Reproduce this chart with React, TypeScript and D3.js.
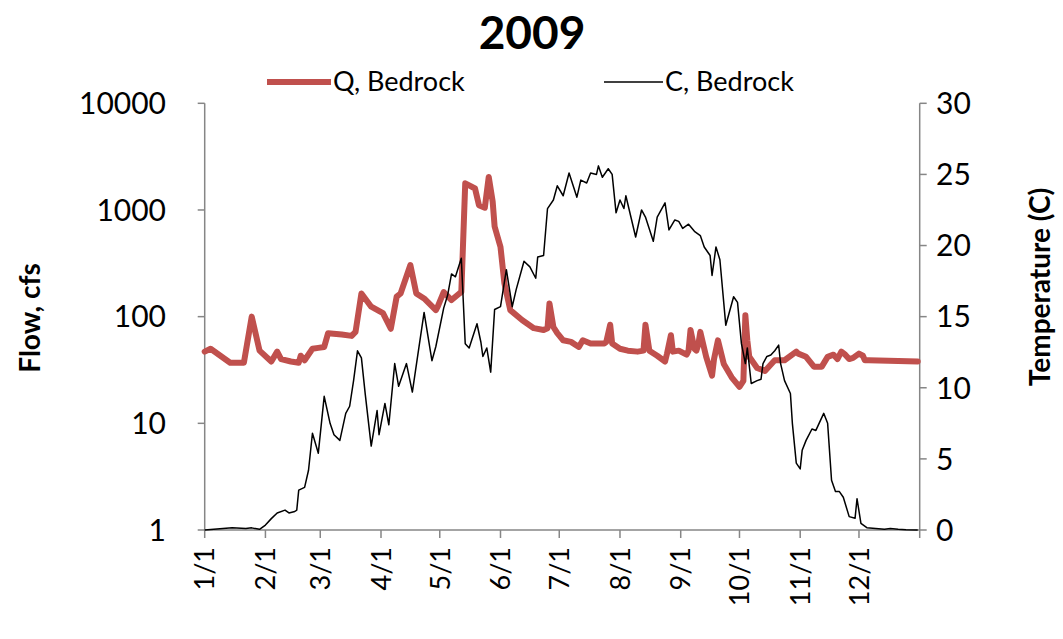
import React from "react";
import * as d3 from "d3";

// day of year (0 = Jan 1, 2009) and flow, cfs
const flowDays = [0, 3, 8, 13, 20, 24, 28, 34, 37, 39, 44, 48, 49, 51, 55, 58, 61, 63, 70, 75, 77, 80, 85, 91, 95, 98, 100, 105, 108, 112, 118, 119, 122, 126, 130, 131, 133, 135, 138, 140, 143, 145, 147, 148, 151, 153, 156, 162, 168, 173, 175, 176, 178, 180, 183, 187, 191, 193, 197, 204, 205, 207, 208, 212, 216, 221, 224, 225, 227, 231, 235, 236, 238, 239, 242, 246, 247, 248, 250, 251, 252, 253, 256, 259, 260, 262, 265, 269, 273, 275, 276, 277, 278, 282, 286, 291, 296, 302, 303, 307, 311, 315, 318, 321, 323, 325, 327, 329, 331, 334, 336, 337, 339, 364];
const flowValues = [47, 50, 43, 37, 37, 100, 48, 38, 47, 40, 38, 37, 43, 39, 50, 51, 52, 70, 68, 66, 72, 165, 124, 108, 77, 154, 165, 305, 165, 148, 115, 125, 170, 143, 165, 170, 1780, 1700, 1590, 1110, 1050, 2040, 1200, 700, 450, 205, 115, 93, 78, 75, 78, 133, 80, 70, 60, 58, 52, 60, 56, 56, 58, 84, 56, 50, 48, 47, 48, 84, 48, 43, 38, 45, 67, 47, 48, 44, 48, 75, 50, 48, 55, 72, 42, 28, 40, 60, 36, 27, 22, 25, 103, 60, 42, 33, 31, 39, 39, 47, 45, 42, 34, 34, 42, 44, 40, 47, 44, 40, 41, 45, 43, 39, 39, 38];

// day of year and water temperature, C
const tempDays = [0, 14, 21, 24, 28, 31, 34, 37, 41, 43, 46, 47, 48, 51, 53, 55, 58, 61, 64, 66, 69, 72, 74, 76, 78, 80, 82, 85, 88, 89, 92, 94, 97, 99, 103, 106, 109, 112, 116, 118, 122, 124, 126, 128, 131, 133, 135, 139, 141, 142, 144, 146, 148, 151, 154, 157, 159, 163, 166, 169, 170, 173, 175, 178, 180, 183, 186, 190, 192, 195, 197, 200, 201, 203, 206, 208, 210, 212, 214, 215, 220, 223, 225, 229, 231, 235, 237, 240, 242, 244, 247, 250, 253, 255, 258, 259, 261, 263, 266, 270, 272, 274, 276, 277, 279, 282, 284, 285, 287, 289, 291, 293, 294, 296, 299, 300, 302, 304, 305, 307, 310, 312, 313, 316, 317, 318, 320, 322, 324, 326, 329, 332, 333, 335, 338, 341, 347, 350, 354, 358, 364];
const tempValues = [0, 0.15, 0.1, 0.15, 0.05, 0.35, 0.8, 1.2, 1.4, 1.2, 1.3, 1.4, 2.8, 3.0, 4.2, 6.8, 5.4, 9.4, 7.5, 6.7, 6.3, 8.2, 8.7, 10.5, 12.6, 12.1, 9.5, 5.9, 8.4, 6.7, 8.9, 7.4, 11.7, 10.1, 11.7, 9.7, 12.5, 15.3, 11.9, 12.9, 15.6, 16.5, 18.0, 17.8, 19.1, 13.1, 12.8, 14.5, 13.2, 12.2, 12.8, 11.1, 15.5, 15.7, 18.3, 15.7, 16.9, 18.9, 18.5, 17.7, 19.2, 19.3, 22.6, 23.2, 24.2, 23.5, 25.1, 23.4, 24.6, 24.4, 25.1, 25.0, 25.6, 24.8, 25.4, 25.0, 22.3, 23.2, 22.6, 23.5, 20.6, 22.5, 22.0, 20.3, 22.0, 23.0, 21.1, 21.8, 21.7, 21.2, 21.5, 21.0, 20.7, 19.9, 19.3, 17.9, 19.9, 19.0, 14.4, 16.4, 16.0, 13.1, 11.7, 12.8, 10.3, 10.5, 10.6, 11.7, 12.2, 12.3, 12.6, 13.0, 11.7, 10.5, 9.6, 7.5, 4.7, 4.3, 5.6, 6.3, 7.1, 7.0, 7.3, 8.2, 7.85, 7.5, 3.5, 2.7, 2.7, 2.3, 0.94, 0.82, 2.2, 0.47, 0.16, 0.12, 0.05, 0.1, 0.05, 0.02, 0];

const flowTicks = [1, 10, 100, 1000, 10000];
const tempTicks = [0, 5, 10, 15, 20, 25, 30];
const title = "2009";
const seriesNames = ["Q, Bedrock", "C, Bedrock"];

const FONT = "Lato, 'Open Sans', sans-serif";
const RED = "#c0504d";
const AXIS = "#868686";

const dayToDate = (d: number) => new Date(2009, 0, 1 + d);

export default function App() {
  const left = 204.7;
  const right = 919.7;
  const top = 103.3;
  const bottom = 530;

  const x = d3.scaleTime().domain([new Date(2009, 0, 1), new Date(2010, 0, 1)]).range([left, right]);
  const yFlow = d3.scaleLog().domain([1, 10000]).range([bottom, top]);
  const yTemp = d3.scaleLinear().domain([0, 30]).range([bottom, top]);

  const flowLine = d3
    .line<number>()
    .x((d) => x(dayToDate(d)))
    .y((_, i) => yFlow(flowValues[i]));
  const tempLine = d3
    .line<number>()
    .x((d) => x(dayToDate(d)))
    .y((_, i) => yTemp(tempValues[i]));

  const months = d3.timeMonth.range(new Date(2009, 0, 1), new Date(2010, 0, 2));
  const fmt = d3.timeFormat("%-m/%-d");

  return (
    <svg width={1063} height={639} style={{ position: "absolute", left: 0, top: 0, background: "#fff" }} fontFamily={FONT}>
      <text x={532} y={49} textAnchor="middle" fontSize={46} fontWeight="bold">
        {title}
      </text>

      {/* legend */}
      <line x1={267} x2={331} y1={82} y2={82} stroke={RED} strokeWidth={6} />
      <text x={333} y={91} fontSize={27}>{seriesNames[0]}</text>
      <line x1={604} x2={663} y1={82} y2={82} stroke="#000" strokeWidth={1.5} />
      <text x={665} y={91} fontSize={27}>{seriesNames[1]}</text>

      {/* axes */}
      <line x1={left} x2={left} y1={top} y2={bottom} stroke={AXIS} strokeWidth={1.5} />
      <line x1={right} x2={right} y1={top} y2={bottom} stroke={AXIS} strokeWidth={1.5} />
      <line x1={left} x2={right} y1={bottom} y2={bottom} stroke={AXIS} strokeWidth={1.5} />

      {flowTicks.map((t) => (
        <g key={"f" + t}>
          <line x1={left - 7} x2={left} y1={yFlow(t)} y2={yFlow(t)} stroke={AXIS} strokeWidth={1.5} />
          <text x={166} y={yFlow(t)} dy="0.36em" textAnchor="end" fontSize={30}>
            {t}
          </text>
        </g>
      ))}

      {tempTicks.map((t) => (
        <g key={"t" + t}>
          <line x1={right} x2={right + 7} y1={yTemp(t)} y2={yTemp(t)} stroke={AXIS} strokeWidth={1.5} />
          <text x={936} y={yTemp(t)} dy="0.36em" textAnchor="start" fontSize={30}>
            {t}
          </text>
        </g>
      ))}

      {months.map((m, i) => (
        <g key={"m" + i}>
          <line x1={x(m)} x2={x(m)} y1={bottom} y2={bottom + 8} stroke={AXIS} strokeWidth={1.5} />
          {i < 12 && (
            <text
              transform={`translate(${x(m)},${547}) rotate(-90)`}
              textAnchor="end"
              dy="0.36em"
              fontSize={27}
            >
              {fmt(m)}
            </text>
          )}
        </g>
      ))}

      <text transform={`translate(30,318) rotate(-90)`} textAnchor="middle" dy="0.36em" fontSize={28} fontWeight="bold">
        Flow, cfs
      </text>
      <text transform={`translate(1040,287) rotate(-90)`} textAnchor="middle" dy="0.36em" fontSize={28} fontWeight="bold">
        Temperature (C)
      </text>

      <path d={flowLine(flowDays) ?? ""} fill="none" stroke={RED} strokeWidth={6} strokeLinejoin="round" strokeLinecap="round" />
      <path d={tempLine(tempDays) ?? ""} fill="none" stroke="#000" strokeWidth={1.5} strokeLinejoin="round" />
    </svg>
  );
}
